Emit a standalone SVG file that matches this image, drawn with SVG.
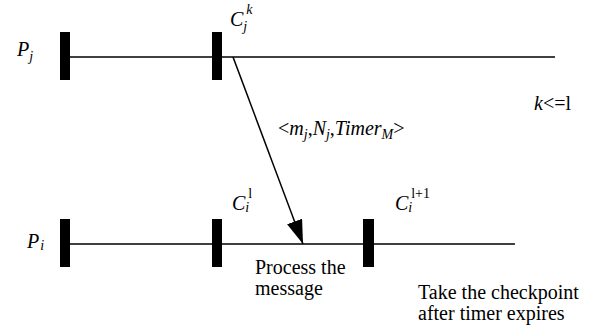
<svg xmlns="http://www.w3.org/2000/svg" width="598" height="333" viewBox="0 0 598 333">
<style>
.ln{stroke:#000;stroke-width:1.5;fill:none}
.bar{fill:#000}
.t{font-size:20px;fill:#000}
.it{font-style:italic}
.s{font-size:14px}
</style>
<defs>
<marker id="ah" markerUnits="userSpaceOnUse" markerWidth="26" markerHeight="18" refX="24" refY="8" orient="auto">
<path d="M0,0 L24,8 L0,16 Z" fill="#000"/>
</marker>
</defs>
<g font-family="Liberation Serif, Times New Roman, serif">
<g id="Pj">
<line class="ln" x1="70" y1="57" x2="555" y2="57"/>
<rect class="bar" x="60" y="32" width="10" height="48"/>
<text class="t it" x="17" y="56">P<tspan class="s" dy="5">j</tspan></text>
</g>
<g id="Cjk">
<rect class="bar" x="212" y="32" width="10" height="48"/>
<text class="t it" x="230" y="26">C<tspan class="s" dy="5">j</tspan><tspan class="s" dy="-17" dx="-1">k</tspan></text>
</g>
<g id="Pi">
<line class="ln" x1="70" y1="244" x2="515" y2="244"/>
<rect class="bar" x="60" y="219" width="10" height="48"/>
<text class="t it" x="27" y="248">P<tspan class="s" dy="2" dx="1">i</tspan></text>
</g>
<g id="Cil">
<rect class="bar" x="212" y="219" width="10" height="48"/>
<text class="t it" x="232" y="210">C<tspan class="s" dy="2">i</tspan><tspan class="s" style="font-style:normal" dy="-14" dx="-1">l</tspan></text>
</g>
<g id="Cil1">
<rect class="bar" x="363" y="219" width="11" height="48"/>
<text class="t it" x="395" y="210">C<tspan class="s" dy="2">i</tspan><tspan class="s" style="font-style:normal" dy="-14" dx="-1">l+1</tspan></text>
</g>
<g id="connectors">
<line class="ln" x1="233" y1="57" x2="303" y2="244" marker-end="url(#ah)"/>
</g>
<g id="labels">
<text class="t" x="278" y="135">&lt;<tspan class="it">m</tspan><tspan class="s it" dy="4">j</tspan><tspan dy="-4">,</tspan><tspan class="it">N</tspan><tspan class="s it" dy="4">j</tspan><tspan dy="-4">,</tspan><tspan class="it">Timer</tspan><tspan class="s it" dy="4">M</tspan><tspan dy="-4">&gt;</tspan></text>
<text class="t" x="534" y="110"><tspan class="it">k</tspan>&lt;=l</text>
<text class="t" x="255" y="274">Process the</text>
<text class="t" x="255" y="295">message</text>
<text class="t" x="418" y="299">Take the checkpoint</text>
<text class="t" x="418" y="320">after timer expires</text>
</g>
</g>
</svg>
